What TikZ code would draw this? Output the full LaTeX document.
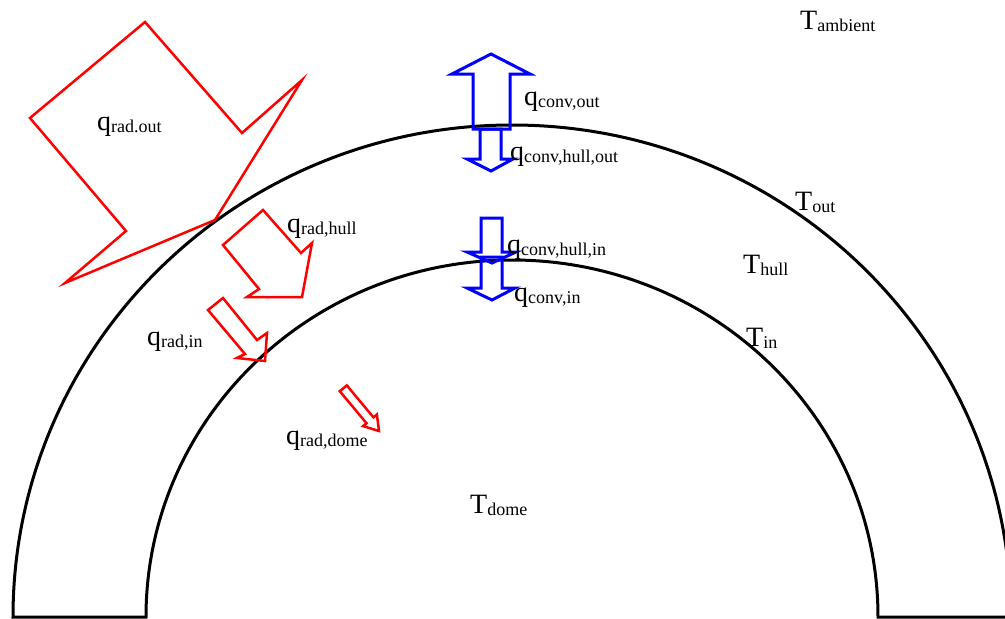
\documentclass[tikz,border=0pt]{standalone}
\usepackage{fontspec}
\setmainfont{Liberation Serif}
\newcommand\bigsz{\fontsize{28}{30}\selectfont}
\newcommand\subsz{\fontsize{18}{20}\selectfont}
\newcommand\lb[2]{{\bigsz #1}\raisebox{-2.5pt}{\subsz #2}}
\begin{document}
\begin{tikzpicture}[x=1pt,y=-1pt,
  lbl/.style={inner sep=0pt, anchor=base west},
  wall/.style={draw=black, line width=3pt, line join=miter},
  redarr/.style={draw=red, line width=2.5pt, line join=miter},
  bluearr/.style={draw=blue, line width=3pt, line join=miter}]
\useasboundingbox (0,0) rectangle (1005,619);
% hull (two concentric arcs closed at the bottom)
\draw[wall] (13,617) arc[start angle=180,end angle=0,x radius=499pt,y radius=492pt]
  -- (878,617) arc[start angle=0,end angle=180,x radius=366pt,y radius=357pt] -- cycle;
% red radiation arrows
\draw[redarr] (145,22) -- (242,133) -- (302,80) -- (215,220) -- (65,283) -- (126,231) -- (30,118) -- cycle;
\draw[redarr] (263,210) -- (301,253) -- (312,243) -- (302,297) -- (247,297) -- (259,289) -- (223,245) -- cycle;
\draw[redarr] (223,298) -- (257,340) -- (267,333) -- (265,361) -- (237,358) -- (245,354) -- (208,310) -- cycle;
\draw[redarr] (346.8,385.4) -- (373.5,417.4) -- (376.9,414.5) -- (379,431) -- (363.1,426.1) -- (366.5,423.2) -- (339.8,391.2) -- cycle;
% blue convection arrows
\draw[bluearr] (491,54) -- (530,74) -- (510,74) -- (510,129) -- (473,129) -- (473,74) -- (452,74) -- cycle;
\draw[bluearr] (480,129) -- (501,129) -- (501,159) -- (513,159) -- (491,171) -- (467,159) -- (480,159) -- cycle;
\draw[bluearr] (481,218) -- (502,218) -- (502,252) -- (516,252) -- (492,263) -- (467,252) -- (481,252) -- cycle;
\draw[bluearr] (481,257) -- (502,257) -- (502,288) -- (515,288) -- (492,300) -- (467,288) -- (481,288) -- cycle;
% labels
\node[lbl] (tamb) at (800,29) {\lb{T}{ambient}};
\node[lbl] (qradout) at (97,130) {\lb{q}{rad.out}};
\node[lbl] (qconvout) at (524,105) {\lb{q}{conv,out}};
\node[lbl] (qconvhullout) at (510,160) {\lb{q}{conv,hull,out}};
\node[lbl] (tout) at (795,210) {\lb{T}{out}};
\node[lbl] (qradhull) at (287,232) {\lb{q}{rad,hull}};
\node[lbl] (qconvhullin) at (507,253) {\lb{q}{conv,hull,in}};
\node[lbl] (thull) at (743,273) {\lb{T}{hull}};
\node[lbl] (qconvin) at (514,301) {\lb{q}{conv,in}};
\node[lbl] (qradin) at (147,345) {\lb{q}{rad,in}};
\node[lbl] (tin) at (746,346) {\lb{T}{in}};
\node[lbl] (qraddome) at (286,444) {\lb{q}{rad,dome}};
\node[lbl] (tdome) at (470,513) {\lb{T}{dome}};
\end{tikzpicture}
\end{document}
